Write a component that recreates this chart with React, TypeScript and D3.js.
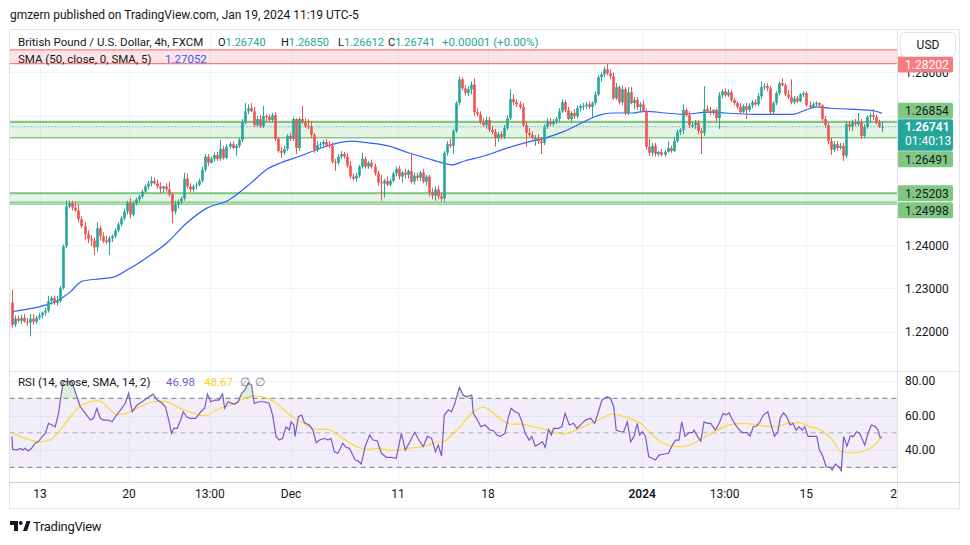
import React, { useEffect, useRef } from "react";
import * as d3 from "d3";

// GBPUSD 4h candles, [open, high, low, close]
const candles: [number, number, number, number][] = [
  [1.2267, 1.2297, 1.2209, 1.2216], [1.2216, 1.2237, 1.2211, 1.223], [1.223, 1.2237, 1.2221, 1.2225],
  [1.2225, 1.2239, 1.2218, 1.2232], [1.2232, 1.2241, 1.2221, 1.2223], [1.2223, 1.2232, 1.2214, 1.2221],
  [1.2221, 1.2241, 1.2189, 1.223], [1.223, 1.2241, 1.2216, 1.2223], [1.2223, 1.2237, 1.2218, 1.2232],
  [1.2232, 1.2244, 1.2228, 1.2237], [1.2237, 1.2246, 1.223, 1.2244], [1.2244, 1.2255, 1.2237, 1.2248],
  [1.2248, 1.2283, 1.2244, 1.2271], [1.2271, 1.2283, 1.2262, 1.2278], [1.2278, 1.2283, 1.2262, 1.2267],
  [1.2267, 1.2283, 1.226, 1.2271], [1.2271, 1.2306, 1.2267, 1.2301], [1.2301, 1.2402, 1.2297, 1.2398],
  [1.2398, 1.2503, 1.2393, 1.249], [1.249, 1.2503, 1.2485, 1.2497], [1.2497, 1.2503, 1.248, 1.2487],
  [1.2487, 1.2501, 1.2478, 1.248], [1.248, 1.2494, 1.2453, 1.246], [1.246, 1.2467, 1.2439, 1.2444],
  [1.2444, 1.2453, 1.2411, 1.2425], [1.2425, 1.2434, 1.2405, 1.2414], [1.2414, 1.2423, 1.2398, 1.2411],
  [1.2411, 1.2418, 1.2377, 1.2395], [1.2395, 1.2453, 1.2384, 1.2439], [1.2439, 1.2446, 1.2411, 1.2421],
  [1.2421, 1.243, 1.2405, 1.2409], [1.2411, 1.2421, 1.2402, 1.2407],
  [1.2407, 1.2421, 1.2377, 1.2416], [1.2416, 1.2425, 1.2407, 1.2421], [1.2421, 1.2439, 1.2416, 1.2434],
  [1.2434, 1.2453, 1.243, 1.2448], [1.2448, 1.2467, 1.2444, 1.2462], [1.2462, 1.2485, 1.2457, 1.2478],
  [1.2478, 1.2503, 1.2471, 1.2499], [1.2499, 1.251, 1.2462, 1.2471], [1.2471, 1.2503, 1.2467, 1.2497],
  [1.2497, 1.251, 1.2492, 1.2506], [1.2506, 1.2517, 1.2499, 1.2513], [1.2513, 1.2529, 1.2508, 1.2524],
  [1.2524, 1.254, 1.252, 1.2536], [1.2536, 1.2549, 1.2529, 1.2543], [1.2543, 1.2559, 1.2536, 1.2549],
  [1.2549, 1.2556, 1.254, 1.2543], [1.2543, 1.2552, 1.2531, 1.2536], [1.2536, 1.2545, 1.252, 1.2531],
  [1.2531, 1.2538, 1.2522, 1.2536], [1.2536, 1.2543, 1.2524, 1.2529], [1.2529, 1.2547, 1.2513, 1.2517],
  [1.2517, 1.2522, 1.2451, 1.2478], [1.2478, 1.2503, 1.2471, 1.2494], [1.2494, 1.2506, 1.2485, 1.2501],
  [1.2501, 1.2513, 1.2494, 1.2508], [1.2508, 1.2568, 1.2503, 1.2554], [1.2554, 1.2566, 1.2531, 1.2536],
  [1.2536, 1.2543, 1.2524, 1.2529], [1.2529, 1.254, 1.2524, 1.2536],
  [1.2538, 1.2545, 1.2529, 1.254], [1.254, 1.2554, 1.2536, 1.2549], [1.2549, 1.2582, 1.2545, 1.2575],
  [1.2575, 1.2611, 1.257, 1.2605], [1.2605, 1.2611, 1.2584, 1.2591], [1.2591, 1.2605, 1.2589, 1.26],
  [1.26, 1.2614, 1.2593, 1.2609], [1.2609, 1.2616, 1.2595, 1.26], [1.26, 1.2644, 1.2595, 1.2623],
  [1.2623, 1.263, 1.2598, 1.2602], [1.2602, 1.2634, 1.26, 1.2628], [1.2628, 1.2639, 1.2623, 1.2634],
  [1.2634, 1.2641, 1.2623, 1.2625], [1.2625, 1.2634, 1.2607, 1.263], [1.263, 1.2648, 1.2625, 1.2644],
  [1.2644, 1.2692, 1.2639, 1.2685], [1.2685, 1.2729, 1.268, 1.271], [1.271, 1.2726, 1.2703, 1.2717],
  [1.2717, 1.2729, 1.2708, 1.271], [1.271, 1.272, 1.2674, 1.2678], [1.2678, 1.2699, 1.2674, 1.2692],
  [1.2692, 1.2701, 1.2671, 1.2676], [1.2676, 1.2722, 1.2671, 1.2699], [1.2699, 1.2703, 1.2685, 1.2697],
  [1.2697, 1.2703, 1.2685, 1.269], [1.269, 1.2706, 1.2685, 1.2701], [1.2701, 1.2708, 1.2641, 1.2646],
  [1.2646, 1.2651, 1.2614, 1.2618], [1.2618, 1.2628, 1.2602, 1.2614], [1.2614, 1.263, 1.2609, 1.2623],
  [1.2623, 1.2657, 1.2618, 1.2653], [1.2653, 1.266, 1.2641, 1.2646], [1.2646, 1.2697, 1.2641, 1.2692],
  [1.2692, 1.2694, 1.2611, 1.2625], [1.2625, 1.2697, 1.2618, 1.2692], [1.2692, 1.2722, 1.268, 1.2685],
  [1.2685, 1.2694, 1.2671, 1.2676], [1.2676, 1.2692, 1.2669, 1.2674], [1.2674, 1.2687, 1.2648, 1.2655],
  [1.2655, 1.266, 1.2614, 1.2621], [1.2621, 1.2641, 1.2616, 1.2632], [1.2632, 1.2639, 1.2625, 1.2634],
  [1.2634, 1.2644, 1.2628, 1.2639], [1.2639, 1.2646, 1.2628, 1.2632], [1.2632, 1.2641, 1.2625, 1.263],
  [1.263, 1.2639, 1.2589, 1.2593], [1.2593, 1.26, 1.2572, 1.2591], [1.2591, 1.2611, 1.2586, 1.2605],
  [1.2605, 1.2618, 1.26, 1.2611], [1.2611, 1.2616, 1.26, 1.2605], [1.2605, 1.2614, 1.2579, 1.2584],
  [1.2584, 1.2595, 1.2554, 1.2559], [1.2559, 1.2566, 1.2549, 1.2554], [1.2554, 1.2568, 1.2547, 1.2561],
  [1.2561, 1.2586, 1.2556, 1.2582], [1.2582, 1.2614, 1.2577, 1.26], [1.26, 1.2605, 1.2577, 1.2582],
  [1.2582, 1.2595, 1.2577, 1.2591], [1.2591, 1.2598, 1.2577, 1.2582], [1.2582, 1.2589, 1.2561, 1.2566],
  [1.2566, 1.2572, 1.2538, 1.2545], [1.2545, 1.2563, 1.2503, 1.2543], [1.2543, 1.2554, 1.251, 1.2549],
  [1.2549, 1.2559, 1.2536, 1.254], [1.254, 1.2554, 1.2536, 1.2549], [1.2549, 1.257, 1.2545, 1.2566],
  [1.2566, 1.2582, 1.2559, 1.2577], [1.2577, 1.2584, 1.2552, 1.2559], [1.2559, 1.2572, 1.2545, 1.2568],
  [1.2568, 1.2577, 1.2554, 1.2563], [1.2563, 1.2575, 1.2554, 1.2572], [1.2572, 1.2614, 1.2543, 1.2547],
  [1.2547, 1.2568, 1.254, 1.2561], [1.2561, 1.2568, 1.2549, 1.2556], [1.2556, 1.2572, 1.2549, 1.2568],
  [1.2568, 1.2577, 1.2543, 1.2547], [1.2547, 1.2563, 1.2538, 1.2559], [1.2559, 1.2563, 1.2513, 1.2522],
  [1.2522, 1.2533, 1.2506, 1.2515], [1.2515, 1.2536, 1.2503, 1.2529], [1.2529, 1.2538, 1.2506, 1.2513],
  [1.2513, 1.2522, 1.2501, 1.2508], [1.2508, 1.2618, 1.2501, 1.2614], [1.2614, 1.2641, 1.2607, 1.2634],
  [1.2634, 1.2646, 1.2625, 1.263], [1.263, 1.2669, 1.2611, 1.2664], [1.2664, 1.2733, 1.266, 1.2729],
  [1.2729, 1.2791, 1.2724, 1.2784], [1.2784, 1.2789, 1.2759, 1.2763], [1.2763, 1.277, 1.2747, 1.2752],
  [1.2752, 1.2768, 1.2745, 1.2761], [1.2761, 1.2779, 1.2749, 1.2772], [1.2772, 1.2786, 1.2699, 1.2708],
  [1.2708, 1.2717, 1.2699, 1.2703], [1.2703, 1.271, 1.268, 1.2685], [1.2685, 1.2694, 1.2674, 1.2678],
  [1.2678, 1.2697, 1.2669, 1.269], [1.269, 1.2697, 1.2662, 1.2667], [1.2667, 1.2676, 1.2657, 1.2662],
  [1.2662, 1.2669, 1.2628, 1.2648], [1.2648, 1.2662, 1.2639, 1.2657], [1.2657, 1.2664, 1.2644, 1.2651],
  [1.2651, 1.2678, 1.2646, 1.2671], [1.2671, 1.2701, 1.2667, 1.2694], [1.2694, 1.2761, 1.269, 1.2738],
  [1.2738, 1.2749, 1.2724, 1.2731], [1.2731, 1.2738, 1.272, 1.2726], [1.2726, 1.2733, 1.2715, 1.272],
  [1.272, 1.2729, 1.2674, 1.2678], [1.2678, 1.2687, 1.2628, 1.266], [1.266, 1.2671, 1.2651, 1.2655],
  [1.2655, 1.2664, 1.2644, 1.2648], [1.2644, 1.2655, 1.263, 1.2648], [1.2648, 1.2657, 1.2634, 1.2641],
  [1.2641, 1.265, 1.2611, 1.2637], [1.2637, 1.268, 1.2632, 1.2674], [1.2674, 1.2694, 1.2669, 1.2687],
  [1.2687, 1.2694, 1.2676, 1.268], [1.268, 1.2692, 1.2676, 1.2687], [1.2687, 1.2697, 1.268, 1.2692],
  [1.2692, 1.2717, 1.2685, 1.271], [1.271, 1.2738, 1.2706, 1.2731], [1.2731, 1.2736, 1.2708, 1.2713],
  [1.2713, 1.272, 1.269, 1.2692], [1.2692, 1.271, 1.2683, 1.2706], [1.2706, 1.2715, 1.2692, 1.2699],
  [1.2699, 1.2724, 1.2694, 1.2717], [1.2717, 1.2726, 1.271, 1.2722], [1.2722, 1.2729, 1.2713, 1.2722],
  [1.2722, 1.2731, 1.2715, 1.2726],
  [1.2726, 1.2733, 1.2715, 1.272], [1.272, 1.2733, 1.2694, 1.2729], [1.2729, 1.2756, 1.2724, 1.2749],
  [1.2749, 1.2793, 1.2745, 1.2789], [1.2789, 1.28, 1.2779, 1.2795], [1.2795, 1.2814, 1.2789, 1.2807],
  [1.2807, 1.2821, 1.2793, 1.2798], [1.2798, 1.2807, 1.2784, 1.2791], [1.2791, 1.28, 1.2736, 1.274],
  [1.274, 1.2775, 1.2736, 1.2766], [1.2766, 1.277, 1.2726, 1.2731], [1.2731, 1.277, 1.2724, 1.2761],
  [1.2761, 1.2766, 1.2701, 1.2706], [1.2706, 1.2766, 1.2701, 1.2754],
  [1.2754, 1.2766, 1.2726, 1.2729], [1.2729, 1.2743, 1.2715, 1.2736],
  [1.2736, 1.2743, 1.2713, 1.272], [1.272, 1.2731, 1.271, 1.2726], [1.2726, 1.2735, 1.2708, 1.271],
  [1.271, 1.2715, 1.2621, 1.2628], [1.2628, 1.2646, 1.2607, 1.2614], [1.2614, 1.2637, 1.2605, 1.263],
  [1.263, 1.2637, 1.2605, 1.2611], [1.2611, 1.2618, 1.2605, 1.2616], [1.2616, 1.2623, 1.2605, 1.2609],
  [1.2609, 1.2621, 1.2605, 1.2616], [1.2616, 1.2641, 1.2614, 1.2625],
  [1.2625, 1.263, 1.2614, 1.2618], [1.2618, 1.2651, 1.2616, 1.2641], [1.2641, 1.2667, 1.2637, 1.2662],
  [1.2662, 1.2671, 1.2655, 1.2667], [1.2667, 1.2726, 1.2657, 1.2713], [1.2713, 1.2717, 1.2697, 1.2701],
  [1.2701, 1.271, 1.2671, 1.2678], [1.2678, 1.2685, 1.2671, 1.2678], [1.2678, 1.269, 1.2669, 1.2683],
  [1.2683, 1.269, 1.2657, 1.2664],
  [1.2664, 1.2671, 1.2611, 1.266], [1.266, 1.2768, 1.2653, 1.2715], [1.2715, 1.2724, 1.2706, 1.271],
  [1.271, 1.272, 1.2701, 1.2706], [1.2706, 1.2715, 1.2701, 1.2713], [1.2713, 1.2717, 1.2687, 1.2694],
  [1.2694, 1.2754, 1.2669, 1.2747], [1.2747, 1.2761, 1.274, 1.2756], [1.2756, 1.2763, 1.2743, 1.2747],
  [1.2747, 1.2761, 1.2743, 1.2754], [1.2754, 1.2759, 1.2731, 1.2736], [1.2736, 1.274, 1.2724, 1.2729],
  [1.2729, 1.2733, 1.2715, 1.272], [1.272, 1.2729, 1.2703, 1.2708], [1.2708, 1.2726, 1.2706, 1.2722],
  [1.2722, 1.2729, 1.2692, 1.2713], [1.2713, 1.2729, 1.2708, 1.2724], [1.2724, 1.2736, 1.2717, 1.2731],
  [1.2731, 1.2738, 1.2722, 1.2726], [1.2726, 1.2752, 1.2722, 1.2745], [1.2745, 1.2779, 1.2738, 1.2766],
  [1.2766, 1.2775, 1.2759, 1.2768], [1.2768, 1.2775, 1.2756, 1.2763], [1.2763, 1.2768, 1.2703, 1.2708],
  [1.2708, 1.2733, 1.2701, 1.2729], [1.2729, 1.2756, 1.2724, 1.2752], [1.2752, 1.2779, 1.2747, 1.2775],
  [1.2775, 1.2786, 1.2768, 1.277], [1.277, 1.2775, 1.2745, 1.2749], [1.2749, 1.2759, 1.2738, 1.2743],
  [1.2743, 1.2784, 1.2726, 1.2731], [1.2731, 1.2745, 1.2726, 1.274], [1.274, 1.2745, 1.2729, 1.2733],
  [1.2733, 1.2752, 1.2731, 1.2749], [1.2749, 1.2756, 1.2743, 1.2752], [1.2752, 1.2756, 1.272, 1.2724],
  [1.2724, 1.2733, 1.2715, 1.272], [1.272, 1.2731, 1.2717, 1.2726], [1.2726, 1.2733, 1.2722, 1.2729],
  [1.2729, 1.2731, 1.272, 1.2724], [1.2724, 1.2726, 1.2687, 1.2692], [1.2692, 1.2699, 1.2671, 1.2678],
  [1.2678, 1.2685, 1.2634, 1.2641], [1.2641, 1.2648, 1.2609, 1.2621], [1.2621, 1.2641, 1.2616, 1.2634],
  [1.2634, 1.2641, 1.2618, 1.2625], [1.2625, 1.2637, 1.2621, 1.263], [1.263, 1.2637, 1.2595, 1.2607],
  [1.2607, 1.2687, 1.2602, 1.268], [1.268, 1.2687, 1.2664, 1.2674], [1.2674, 1.269, 1.2664, 1.2685],
  [1.2685, 1.2692, 1.2676, 1.268], [1.268, 1.2706, 1.2676, 1.2685], [1.2685, 1.2692, 1.2646, 1.2653],
  [1.2653, 1.268, 1.2648, 1.2674], [1.2674, 1.2701, 1.2669, 1.2697], [1.2697, 1.2706, 1.2683, 1.2701],
  [1.2701, 1.2715, 1.269, 1.2697], [1.2697, 1.2703, 1.268, 1.2683], [1.2683, 1.269, 1.2671, 1.2674],
  [1.2674, 1.2685, 1.26612, 1.26741],
];

// SMA(50) readings: [bar index, value]
const smaPoints: [number, number][] = [
  [0, 1.2246], [2.7, 1.2249], [6, 1.2253], [9.3, 1.2258], [14.3, 1.2269], [17, 1.228], [19.3, 1.2292],
  [23.3, 1.2317], [29.2, 1.2322], [33.6, 1.2326], [38.2, 1.2343], [43.5, 1.2366], [51.5, 1.2407],
  [58.1, 1.2453], [64.8, 1.2487], [71.4, 1.2503], [78.1, 1.2538], [84.7, 1.2577], [89, 1.2591],
  [95.7, 1.2607], [102.3, 1.2625], [108, 1.2637], [112.3, 1.2641], [118, 1.2637], [124.6, 1.263],
  [131.2, 1.2614], [137.9, 1.26], [142.2, 1.2591], [145.5, 1.2586], [149.8, 1.2595], [156.5, 1.2607],
  [163.1, 1.2623], [169.8, 1.2637], [176.4, 1.2648], [183, 1.2664], [189.7, 1.2687], [194.4, 1.2701],
  [198.7, 1.2706], [205.3, 1.2706], [209.6, 1.271], [216.3, 1.2706], [221.9, 1.2703], [230.9, 1.2708],
  [236.2, 1.2706], [245.2, 1.2703], [252.8, 1.2703], [258.5, 1.2703], [262.8, 1.2713], [266.1, 1.272],
  [270.8, 1.2717], [277.4, 1.2715], [286, 1.271], [288, 1.27052],
];

// RSI(14) readings: [bar index, value]
const rsiPoints: [number, number][] = [
  [0, 47.9], [0.2, 40.4], [1.6, 40], [2.7, 40.9], [3.6, 40], [4.3, 41], [5.4, 39.4], [6.5, 41], [7.6, 44],
  [8.7, 44.8], [9.9, 47.7], [11, 49.7], [12.1, 55.5], [13.2, 54.5], [14.3, 53.5], [15.4, 61.3], [16.5, 74.8],
  [17, 79.6], [18.2, 79.6], [19.8, 79.6], [21.5, 70.9], [22.6, 65.1], [24.3, 61.3], [25.9, 57.4], [27, 58.4],
  [28.1, 64.2], [29.2, 58.4], [30.3, 57.4], [32, 57.4], [33.1, 56.4], [34.2, 59.3], [35.9, 63.2], [37.5, 67.1],
  [38.6, 72.9], [39.8, 62.2], [41.4, 66.1], [43.1, 68], [44.7, 70], [46.7, 72.5], [48.1, 69], [49.7, 67.1],
  [50.8, 65.1], [51.9, 57.4], [52.8, 49.7], [53.6, 52.6], [54.7, 52.6], [55.8, 57.4], [56.7, 62.2], [57.8, 59.3],
  [58.9, 58.4], [60.8, 58.4], [62.5, 62.2], [63.8, 64.2], [64.7, 72.5], [65.8, 68], [67.1, 69], [68.5, 69],
  [69.7, 72.5], [70.4, 64.2], [71.5, 68], [72.7, 67.1], [73.8, 66.7], [74.9, 68], [76, 72.9], [77.1, 74.8],
  [78.2, 79], [79.3, 77.7], [80.2, 67.1], [81.8, 68], [83.5, 68], [85.1, 67.1], [86.3, 60.3], [87.4, 47.9],
  [88.5, 45.8], [89.6, 46.8], [90.7, 53.5], [91.8, 51.6], [92.4, 56.4], [93.3, 54.5], [93.7, 47.9], [94.8, 59.3],
  [95.9, 60.3], [96.8, 55.8], [98.4, 54.5], [99.6, 51.6], [100.7, 44.2], [101.8, 45.8], [103.4, 46.8],
  [104.6, 45.8], [105.6, 46.8], [106.7, 39], [107.9, 38.1], [109.5, 43.9], [110.6, 41.6], [111.7, 41],
  [113.6, 34.2], [114.5, 33.8], [115.6, 31.9], [116.9, 41.9], [118.4, 48.7], [119.5, 45.8], [120.9, 45.4],
  [122.3, 38.1], [123.9, 35.8], [125.6, 35.8], [127.2, 35.2], [128.9, 49.7], [130.2, 40], [131.7, 44.8],
  [133.3, 50.3], [134.7, 45.8], [136.1, 41.9], [137.5, 47.9], [138.9, 46.8], [140.2, 39], [141.1, 42.9],
  [142.2, 36.5], [143.1, 60.3], [144.4, 63.2], [145.5, 62.2], [146.6, 67.1], [148.1, 76.3], [149.4, 71.9],
  [150.5, 70.9], [152.2, 71.9], [152.7, 61.3], [153.8, 58.4], [155.2, 53.5], [156.6, 54.5], [158.2, 51.6],
  [159.4, 51.2], [160.5, 48.7], [161.6, 47.9], [163.2, 49.7], [164.1, 57.4], [165.2, 64.2], [166.5, 62.2],
  [167.7, 61.3], [168.8, 56.4], [169.9, 49.7], [171.2, 45.8], [172.1, 47.9], [173.2, 42.3], [174.5, 43.5],
  [175.6, 44.8], [176.5, 41.6], [177.6, 52], [178.5, 48.7], [179.3, 52.6], [180.9, 52.6], [182, 53.5],
  [183.1, 61.3], [184.5, 54.5], [185.9, 55.5], [187, 52.6], [188.7, 55.5], [189.8, 57.4], [191.5, 58.4],
  [192.9, 55.5], [194.3, 63.2], [195.3, 69], [197, 70.9], [198.1, 70], [199.2, 65.1], [200, 51.6],
  [201.4, 50.6], [202.5, 50.6], [203.7, 56.4], [204.8, 44.8], [205.9, 47.9], [207, 55.5], [207.7, 48.7],
  [208.6, 50.6], [209.7, 47.9], [210.8, 36.1], [211.9, 35.2], [213, 34.2], [214.2, 37.1], [215.8, 37.7],
  [217.3, 38.1], [218.6, 42.9], [219.7, 45.8], [220.8, 45.8], [221.7, 56.4], [222.8, 47.9], [224.1, 50.1],
  [225.2, 50.1], [225.8, 51.6], [226.9, 47.9], [228, 45.2], [229.1, 56.4], [230.2, 55.5], [231.3, 55.5],
  [232.8, 51.6], [234.1, 55.5], [235.4, 61.3], [236.3, 60.3], [237.4, 61.6], [238.5, 57.4], [239.6, 54.5],
  [240.8, 51.6], [241.9, 50.1], [243.2, 50.1], [244.3, 48.1], [245.4, 53.5], [246.5, 53.9], [247.6, 56.4],
  [248.7, 60.3], [250.2, 62.2], [251.3, 54.5], [252.4, 47.9], [253.5, 50.6], [254.3, 58.4], [255.4, 61.6],
  [256.5, 59.3], [257.6, 54.5], [258.5, 55.5], [259.6, 51.6], [260.5, 53.5], [261.6, 51.6], [262.4, 53.5],
  [263.5, 47.9], [265.1, 47.9], [266.4, 47.9], [267.3, 40], [268.4, 36.5], [269.5, 30.3], [270.9, 29.9],
  [271.5, 28.4], [272.6, 31.9], [273.7, 30.3], [274.5, 28], [275.3, 47.9], [276.4, 42.3], [277.5, 48.1],
  [278.6, 47.9], [279.5, 50.6], [280.6, 49.7], [282.3, 42.9], [283.4, 49.7], [284.5, 54.5], [285.6, 53.9],
  [286.7, 51.6], [287.4, 47.1], [288, 46.98],
];

// RSI-based SMA(14) readings: [bar index, value]
const rsiMaPoints: [number, number][] = [
  [0, 49.7], [2.7, 47.9], [6, 45.8], [9.3, 44.8], [12.6, 45.8], [15.9, 51.6], [19.3, 59.3], [22.6, 65.5],
  [25.3, 67.6], [28.1, 68.6], [30.3, 67.1], [32.6, 63.2], [34.8, 60.3], [37.5, 61.3], [40.3, 63.2],
  [43.6, 66.1], [46.9, 68], [50.3, 68.4], [53.6, 66.1], [56.9, 63.2], [60.2, 61.3], [62.5, 59.9], [64.7, 60.3],
  [68, 63.6], [72.4, 66.1], [75.7, 69], [80.2, 71.3], [83.5, 70.5], [86.8, 68], [90.1, 63.2], [93.5, 58.4],
  [95.7, 56.4], [99, 53.2], [101.2, 52], [104.6, 52], [107.9, 48.7], [111.2, 44.8], [114.5, 41.6],
  [117.8, 40.4], [121.2, 41], [124.5, 40], [127.8, 40], [131.1, 41], [134.4, 41.6], [137.8, 42.9],
  [141.1, 44.8], [142.7, 44.8], [145.5, 48.7], [148.8, 54.5], [152.2, 61.3], [156, 64.8], [158.8, 62.2],
  [162.1, 57.4], [165.4, 55], [168.8, 55], [172.1, 53.5], [176.5, 52], [179.8, 50.1], [182.1, 49.3],
  [185.4, 50.6], [188.7, 53.2], [192, 55.5], [195.3, 58.4], [198.7, 60.9], [202, 59.7], [205.3, 57.8],
  [208.6, 55], [212, 48.7], [215.3, 44.2], [218.6, 42.3], [221.9, 41.9], [225.2, 43.5], [228.6, 46.8],
  [231.9, 50.1], [236.3, 53.9], [240.8, 55.5], [245.2, 55], [249.6, 53.9], [252.9, 53.5], [257.4, 55.8],
  [260.7, 55.8], [264, 53.5], [267.3, 52], [271.8, 45.4], [274.5, 39], [278.4, 38.4], [282.8, 40],
  [286.1, 43.9], [288, 48.67],
];

const timeTickIdx = [9.3, 38.7, 65.5, 92.4, 127.8, 157.6, 208.6, 235.9, 262.9, 293];
const timeTickLabels = ["13", "20", "13:00", "Dec", "11", "18", "2024", "13:00", "15", "22"];

const priceTicks = [1.22, 1.23, 1.24, 1.25, 1.26, 1.27, 1.28];
// price labels left readable on the axis (the rest sit under the coloured level labels)
const priceTickLabels = [1.22, 1.23, 1.24, 1.28];
const rsiTicks = [40, 60, 80];
const rsiLevels = [70, 50, 30];

const resistZone = [1.2852, 1.28202];
const supportZones = [[1.26854, 1.26491], [1.25203, 1.2495]];
const supportLines = [1.26854, 1.26491, 1.25203, 1.24998];
const countdown = "01:40:13";

const FONT = "Roboto, 'Noto Sans', Arial, sans-serif";
const UP = "#26a69a";
const DOWN = "#ef5350";
const TEXT = "#131722";
const GRID = "#f0f3fa";
const BORDER = "#e0e3eb";

export default function App() {
  const ref = useRef<SVGSVGElement>(null);

  useEffect(() => {
    const svg = d3.select(ref.current);
    svg.selectAll("*").remove();
    svg.attr("font-family", FONT);

    const left = 9.5, right = 959.5;
    const paneR = 897;
    const mainTop = 30, mainBot = 371, rsiTop = 372, rsiBot = 482, timeBot = 508;

    const x = d3.scaleLinear().domain([0, candles.length - 1]).range([12, 882]);
    const y = d3.scaleLinear().domain([1.22, 1.28]).range([331.6, 72.4]);
    const yR = d3.scaleLinear().domain([30, 70]).range([467.3, 398.3]);
    const fmt = d3.format(".5f");

    const last = candles[candles.length - 1];
    const prev = candles[candles.length - 2];
    const lastPrice = last[3];

    svg.append("rect").attr("width", 970).attr("height", 545).attr("fill", "#fff");

    const defs = svg.append("defs");
    const clip = (id: string, x0: number, y0: number, x1: number, y1: number) =>
      defs.append("clipPath").attr("id", id).append("rect")
        .attr("x", x0).attr("y", y0).attr("width", x1 - x0).attr("height", y1 - y0);
    clip("clipMain", left, mainTop, paneR, mainBot);
    clip("clipRsi", left, rsiTop, paneR, rsiBot);
    clip("clipOver", left, rsiTop, paneR, yR(70));
    clip("clipUnder", left, yR(30), paneR, rsiBot);
    clip("clipTime", left, rsiBot, paneR, timeBot);

    // grid
    const grid = svg.append("g").attr("stroke", GRID).attr("stroke-width", 1);
    timeTickIdx.forEach((t) => {
      const gx = Math.round(x(t)) + 0.5;
      if (gx < paneR) grid.append("line").attr("x1", gx).attr("x2", gx).attr("y1", mainTop).attr("y2", rsiBot);
    });
    priceTicks.forEach((p) => {
      const gy = Math.round(y(p)) + 0.5;
      grid.append("line").attr("x1", left).attr("x2", paneR).attr("y1", gy).attr("y2", gy);
    });
    rsiTicks.forEach((v) => {
      const gy = Math.round(yR(v)) + 0.5;
      grid.append("line").attr("x1", left).attr("x2", paneR).attr("y1", gy).attr("y2", gy);
    });

    const main = svg.append("g").attr("clip-path", "url(#clipMain)");

    // resistance zone
    main.append("rect").attr("x", left).attr("width", paneR - left)
      .attr("y", y(resistZone[0])).attr("height", y(resistZone[1]) - y(resistZone[0]))
      .attr("fill", "rgba(242,54,69,0.14)");
    resistZone.forEach((p) => {
      main.append("line").attr("x1", left).attr("x2", paneR).attr("y1", y(p)).attr("y2", y(p))
        .attr("stroke", "#f77c80").attr("stroke-width", 1.2);
    });

    // support zones
    supportZones.forEach(([a, b]) => {
      main.append("rect").attr("x", left).attr("width", paneR - left)
        .attr("y", y(a)).attr("height", y(b) - y(a)).attr("fill", "rgba(129,199,132,0.2)");
      main.append("line").attr("x1", left).attr("x2", paneR).attr("y1", y(a)).attr("y2", y(a))
        .attr("stroke", "#81c784").attr("stroke-width", 2.2);
      main.append("line").attr("x1", left).attr("x2", paneR).attr("y1", y(b)).attr("y2", y(b))
        .attr("stroke", "#81c784").attr("stroke-width", 1.2);
    });
    supportLines.forEach((p) => {
      main.append("line").attr("x1", left).attr("x2", paneR).attr("y1", y(p)).attr("y2", y(p))
        .attr("stroke", "#81c784").attr("stroke-width", 1.2);
    });

    // SMA 50
    const smaLine = d3.line<[number, number]>()
      .x((d) => x(d[0])).y((d) => y(d[1])).curve(d3.curveMonotoneX);
    main.append("path").datum(smaPoints).attr("fill", "none")
      .attr("stroke", "#2962ff").attr("stroke-width", 1.2).attr("d", smaLine);

    // candles
    const cg = main.append("g");
    candles.forEach((c, i) => {
      const [o, h, l, cl] = c;
      const col = cl >= o ? UP : DOWN;
      const cx = Math.round(x(i));
      cg.append("rect").attr("x", cx).attr("width", 1)
        .attr("y", y(h)).attr("height", Math.max(1, y(l) - y(h))).attr("fill", col);
      const top = y(Math.max(o, cl));
      const bh = Math.max(1, Math.abs(y(o) - y(cl)));
      cg.append("rect").attr("x", cx - 0.8).attr("width", 2.6)
        .attr("y", top).attr("height", bh).attr("fill", col);
    });

    // last price dotted line
    main.append("line").attr("x1", left).attr("x2", paneR)
      .attr("y1", y(lastPrice)).attr("y2", y(lastPrice))
      .attr("stroke", UP).attr("stroke-width", 1).attr("stroke-dasharray", "1,2");

    // legends
    const leg1 = svg.append("text").attr("y", 46).attr("font-size", 11.5).attr("fill", TEXT);
    leg1.append("tspan").attr("x", 18).text("British Pound / U.S. Dollar, 4h, FXCM");
    const ohlc: [string, number][] = [["O", last[0]], ["H", last[1]], ["L", last[2]], ["C", last[3]]];
    const ohlcX = [218, 281, 338, 388];
    ohlc.forEach(([k, v], i) => {
      leg1.append("tspan").attr("x", ohlcX[i]).attr("fill", TEXT).attr("font-size", 11).text(k);
      leg1.append("tspan").attr("fill", UP).attr("font-size", 11).text(fmt(v));
    });
    const chg = last[3] - prev[3];
    leg1.append("tspan").attr("x", 442).attr("fill", UP)
      .text(`${d3.format("+.5f")(chg)} (+${d3.format(".2f")(Math.abs(chg / prev[3]) * 100)}%)`);

    const leg2 = svg.append("text").attr("y", 63).attr("font-size", 11.5).attr("fill", TEXT);
    leg2.append("tspan").attr("x", 18).text("SMA (50, close, 0, SMA, 5)");
    leg2.append("tspan").attr("x", 165).attr("fill", "#2962ff")
      .text(fmt(smaPoints[smaPoints.length - 1][1]));

    // price axis tick labels
    const axis = svg.append("g").attr("font-size", 12);
    priceTickLabels.forEach((p) => {
      axis.append("text").attr("x", 905).attr("y", y(p) + 4.3).attr("fill", TEXT).text(fmt(p));
    });

    // coloured level labels with simple collision avoidance
    const lh = 16;
    const curY = y(lastPrice);
    const curTop = curY - 7.5, curBot = curY + 24;
    type Lab = { p: number; bg: string; fg: string; c: number };
    const labs: Lab[] = [
      { p: resistZone[1], bg: "#f77c80", fg: "#fff", c: y(resistZone[1]) + 0.8 },
      ...supportLines.map((p) => ({ p, bg: "#81c784", fg: TEXT, c: y(p) })),
    ];
    labs.sort((a, b) => a.c - b.c);
    labs.forEach((lb) => {
      if (lb.c + lh / 2 > curTop && lb.c < curY) lb.c = curTop - lh / 2 - 0.5;
      if (lb.c - lh / 2 < curBot && lb.c >= curY) lb.c = curBot + lh / 2 + 0.5;
    });
    for (let i = 1; i < labs.length; i++) {
      const minC = labs[i - 1].c + lh + 1;
      if (labs[i].c < minC && labs[i].c > labs[i - 1].c - lh) labs[i].c = minC;
    }
    labs.forEach((lb) => {
      axis.append("rect").attr("x", paneR).attr("y", lb.c - lh / 2).attr("width", 56).attr("height", lh)
        .attr("rx", 2).attr("fill", lb.bg);
      axis.append("text").attr("x", 905).attr("y", lb.c + 4.3).attr("fill", lb.fg).text(fmt(lb.p));
    });
    axis.append("rect").attr("x", paneR).attr("y", curTop).attr("width", 56).attr("height", curBot - curTop)
      .attr("rx", 2).attr("fill", UP);
    axis.append("text").attr("x", 905).attr("y", curY + 4.3).attr("fill", "#fff")
      .attr("font-weight", 600).text(fmt(lastPrice));
    axis.append("text").attr("x", 905).attr("y", curY + 18).attr("fill", "#fff").text(countdown);

    // USD button
    svg.append("rect").attr("x", 900.5).attr("y", 32.5).attr("width", 55).attr("height", 24).attr("rx", 4)
      .attr("fill", "#fff").attr("stroke", BORDER);
    svg.append("text").attr("x", 928).attr("y", 49).attr("text-anchor", "middle")
      .attr("font-size", 12).attr("fill", TEXT).text("USD");

    // RSI pane
    const rsi = svg.append("g").attr("clip-path", "url(#clipRsi)");
    rsi.append("rect").attr("x", left).attr("width", paneR - left)
      .attr("y", yR(70)).attr("height", yR(30) - yR(70)).attr("fill", "rgba(126,87,194,0.1)");
    rsiLevels.forEach((v) => {
      rsi.append("line").attr("x1", left).attr("x2", paneR).attr("y1", yR(v)).attr("y2", yR(v))
        .attr("stroke", v === 50 ? "rgba(120,123,134,0.55)" : "#787b86")
        .attr("stroke-dasharray", "5,4");
    });
    const band = (lvl: number) => d3.area<[number, number]>()
      .x((d) => x(d[0])).y0(yR(lvl)).y1((d) => yR(d[1]));
    svg.append("path").datum(rsiPoints).attr("clip-path", "url(#clipOver)")
      .attr("fill", "rgba(76,175,80,0.2)").attr("d", band(70));
    svg.append("path").datum(rsiPoints).attr("clip-path", "url(#clipUnder)")
      .attr("fill", "rgba(242,54,69,0.15)").attr("d", band(30));

    const rLine = (curve: d3.CurveFactory) => d3.line<[number, number]>()
      .x((d) => x(d[0])).y((d) => yR(d[1])).curve(curve);
    rsi.append("path").datum(rsiMaPoints).attr("fill", "none")
      .attr("stroke", "#fdd835").attr("stroke-width", 1.2).attr("d", rLine(d3.curveMonotoneX));
    rsi.append("path").datum(rsiPoints).attr("fill", "none")
      .attr("stroke", "#7e57c2").attr("stroke-width", 1.2).attr("d", rLine(d3.curveLinear));

    const leg3 = svg.append("text").attr("y", 386).attr("font-size", 11.5).attr("fill", TEXT);
    leg3.append("tspan").attr("x", 18).text("RSI (14, close, SMA, 14, 2)");
    leg3.append("tspan").attr("x", 166).attr("fill", "#7e57c2")
      .text(d3.format(".2f")(rsiPoints[rsiPoints.length - 1][1]));
    leg3.append("tspan").attr("x", 204).attr("fill", "#f5d20f")
      .text(d3.format(".2f")(rsiMaPoints[rsiMaPoints.length - 1][1]));
    leg3.append("tspan").attr("x", 240).attr("fill", "#787b86").text("\u2205");
    leg3.append("tspan").attr("x", 255).attr("fill", "#787b86").text("\u2205");

    rsiTicks.forEach((v) => {
      axis.append("text").attr("x", 905).attr("y", yR(v) + 4.3).attr("fill", TEXT)
        .text(d3.format(".2f")(v));
    });

    // time axis
    const tg = svg.append("g").attr("clip-path", "url(#clipTime)").attr("font-size", 12)
      .attr("fill", TEXT).attr("text-anchor", "middle");
    timeTickIdx.forEach((t, i) => {
      tg.append("text").attr("x", x(t)).attr("y", 498)
        .attr("font-weight", timeTickLabels[i] === "2024" ? 600 : 400).text(timeTickLabels[i]);
    });

    // borders
    const b = svg.append("g").attr("stroke", BORDER).attr("stroke-width", 1).attr("fill", "none");
    b.append("rect").attr("x", left).attr("y", 29.5).attr("width", right - left).attr("height", timeBot + 0.5 - 29.5);
    b.append("line").attr("x1", paneR + 0.5).attr("x2", paneR + 0.5).attr("y1", 29.5).attr("y2", timeBot + 0.5);
    b.append("line").attr("x1", left).attr("x2", right).attr("y1", mainBot + 0.5).attr("y2", mainBot + 0.5);
    b.append("line").attr("x1", left).attr("x2", right).attr("y1", rsiBot + 0.5).attr("y2", rsiBot + 0.5)
      .attr("stroke", "#d1d4dc");

    // header & footer
    svg.append("text").attr("x", 10).attr("y", 19).attr("font-size", 12).attr("fill", TEXT)
      .text("gmzern published on TradingView.com, Jan 19, 2024 11:19 UTC-5");

    const logo = svg.append("g").attr("fill", TEXT);
    logo.append("path").attr("d", "M10 521 h8 v10 h-4 v-6 h-4 z");
    logo.append("circle").attr("cx", 20.8).attr("cy", 523).attr("r", 1.9);
    logo.append("path").attr("d", "M23 531 l3.5 -10 h4 l-3.5 10 z");
    svg.append("text").attr("x", 33).attr("y", 531).attr("font-size", 13).attr("fill", TEXT)
      .attr("letter-spacing", -0.3).text("TradingView");
  }, []);

  return (
    <div style={{ position: "absolute", left: 0, top: 0 }}>
      <svg ref={ref} width={970} height={545} style={{ display: "block" }}></svg>
    </div>
  );
}
